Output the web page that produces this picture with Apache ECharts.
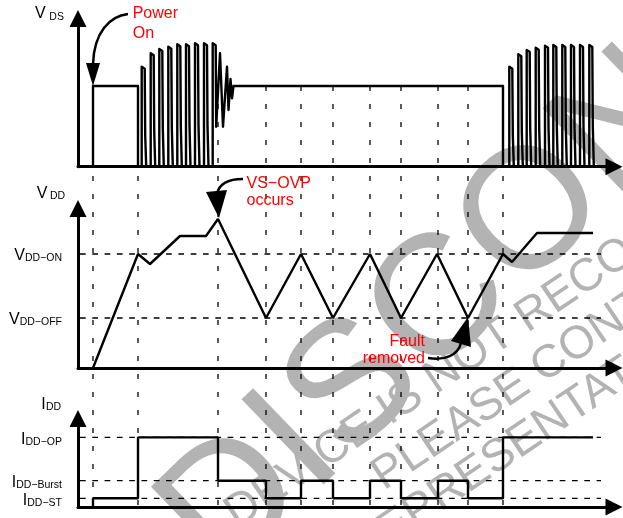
<!DOCTYPE html>
<html><head><meta charset="utf-8">
<script src="https://cdn.jsdelivr.net/npm/echarts@6/dist/echarts.min.js"></script>
<style>html,body{margin:0;padding:0;background:#fff}#c{width:623px;height:518px}</style>
</head><body><div id="c"></div>
<script>
// ---- time axis (same time base for all three panels) ----
const eventTimes = [15, 60, 140, 188, 223, 255, 292, 323, 360, 390, 425];
const tEnd = 515;
const dashStartT = 2, dashEndT = 523;

// ---- VDS ----
const vdsPlateau = 80.7;
const vdsOnT = 15, vdsBurst1T = 60, vdsBurst2T = 425;
const burst1Times = [63.7, 72.7, 81.3, 90.3, 99.3, 108, 117, 126, 134.7];
const burst1Peaks = [100, 113.4, 117.7, 120, 122.4, 122.4, 123.4, 123.4, 123.4];
const burst1Lows  = [31.7, 36.7, 38.4, 40, 41, 41.7, 41.7, 41.7, 40];
const ringTimes  = [142, 145, 149, 150.5, 152.5, 154, 155.5];
const ringValues = [113.4, 40, 100, 56.7, 87.7, 68.4, 80.7];
const burst2Times = [431.3, 440.3, 448.7, 457.7, 467, 475.3, 484.3, 493, 502, 511.3];
const burst2Peaks = [100, 112.4, 116.7, 119, 121, 121.7, 121.7, 121.7, 121.7, 121.7];
const burst2Lows  = [31.7, 35, 38.4, 38.4, 40, 40, 40, 40, 40, 40];

// ---- VDD ----
const vddTimes  = [15, 60, 72, 102, 128, 140, 188, 223, 255, 292, 323, 359, 390, 425, 434, 459, 515];
const vddValues = [0, 114, 104, 132, 132, 149, 50, 114, 50, 114, 50, 114, 50, 114, 106, 135, 135];
const vddLevelValues = [114, 50];
const vddLevelNames  = ['DD\u2212ON', 'DD\u2212OFF'];

// ---- IDD ----
const iddTimes  = [15, 15, 60, 140, 188, 223, 255, 292, 323, 360, 390, 425, 515];
const iddValues = [0, 8.7, 69.6, 26.3, 8.7, 26.3, 8.7, 26.3, 8.7, 26.3, 8.7, 69.6, 69.6];
const iddLevelValues = [69.6, 26.3, 8.7];
const iddLevelNames  = ['DD\u2212OP', 'DD\u2212Burst', 'DD\u2212ST'];

// ---- build series data ----
function spikes(times, peaks, lows, endOnLow) {
  const pts = [];
  times.forEach((t, i) => {
    pts.push([t, 0], [t, peaks[i]], [t + 1.5, peaks[i] + 0.5], [t + 3, peaks[i] - 2], [t + 3.5, lows[i]], [t + 4.5, lows[i] + 1]);
    if (!(endOnLow && i === times.length - 1)) pts.push([t + 4.5, 0]);
  });
  return pts;
}
const vdsData = [[vdsOnT, 0], [vdsOnT, vdsPlateau], [vdsBurst1T, vdsPlateau], [vdsBurst1T, 0]]
  .concat(spikes(burst1Times, burst1Peaks, burst1Lows, true))
  .concat(ringTimes.map((t, i) => [t, ringValues[i]]))
  .concat([[vdsBurst2T, vdsPlateau], [vdsBurst2T, 0]])
  .concat(spikes(burst2Times, burst2Peaks, burst2Lows, false));
const vddData = vddTimes.map((t, i) => [t, vddValues[i]]);
const iddData = iddTimes.map((t, i) => [t, iddValues[i]]);

const FF = '"Liberation Sans", Arial, sans-serif';
const grids = [
  {left: 78, width: 536, top: 18.5, height: 148.2},
  {left: 78, width: 536, top: 208.5, height: 159.5},
  {left: 78, width: 536, top: 418.5, height: 88.5},
  {left: 78, width: 536, top: 86, height: 421}
].map(g => Object.assign(g, {outerBoundsMode: 'none', containLabel: false}));

const axisLine = {show: true, onZero: false, symbol: ['none', 'triangle'], symbolSize: [17, 17],
  lineStyle: {color: '#000', width: 3}};
const xAxis = [0, 1, 2].map(i => ({type: 'value', gridIndex: i, min: 0, max: 536, axisLine,
  axisTick: {show: false}, axisLabel: {show: false}, splitLine: {show: false}}))
  .concat([{type: 'value', gridIndex: 3, min: 0, max: 536, show: false}]);

function levelLabel(values, names, letter) {
  return {
    show: true, customValues: values, margin: 16, padding: [4, 0, 0, 0],
    formatter: v => {
      const i = values.findIndex(x => Math.abs(x - v) < 0.01);
      return '{m|' + letter + '}{s|' + (i >= 0 ? names[i] : '') + '}';
    },
    rich: {
      m: {fontSize: 16, lineHeight: 16, fontFamily: FF, color: '#000', verticalAlign: 'bottom'},
      s: {fontSize: 10.5, lineHeight: 10.5, fontFamily: FF, color: '#000', verticalAlign: 'bottom'}
    }
  };
}
const yAxis = [
  {type: 'value', gridIndex: 0, min: 0, max: 148.2, axisLine, axisTick: {show: false}, axisLabel: {show: false}, splitLine: {show: false}},
  {type: 'value', gridIndex: 1, min: 0, max: 159.5, axisLine, axisTick: {show: false}, axisLabel: levelLabel(vddLevelValues, vddLevelNames, 'V'), splitLine: {show: false}},
  {type: 'value', gridIndex: 2, min: 0, max: 88.5, axisLine, axisTick: {show: false}, axisLabel: levelLabel(iddLevelValues, iddLevelNames, 'I'), splitLine: {show: false}},
  {type: 'value', gridIndex: 3, min: 0, max: 1, show: false}
];

const base = {type: 'line', symbol: 'none', showSymbol: false, silent: true, animation: false};
const series = [];
eventTimes.forEach(t => series.push(Object.assign({}, base, {xAxisIndex: 3, yAxisIndex: 3, z: 1,
  data: [[t, 1], [t, 0]], lineStyle: {color: '#000', width: 1.3, type: [5, 13]}})));
vddLevelValues.forEach(v => series.push(Object.assign({}, base, {xAxisIndex: 1, yAxisIndex: 1, z: 1,
  data: [[dashStartT, v], [dashEndT, v]], lineStyle: {color: '#000', width: 1.3, type: [5.7, 6.6]}})));
iddLevelValues.forEach(v => series.push(Object.assign({}, base, {xAxisIndex: 2, yAxisIndex: 2, z: 1,
  data: [[dashStartT, v], [dashEndT, v]], lineStyle: {color: '#000', width: 1.3, type: [5.7, 6.6]}})));
series.push(Object.assign({}, base, {xAxisIndex: 0, yAxisIndex: 0, z: 3, data: vdsData,
  lineStyle: {color: '#000', width: 2.4, join: 'round', cap: 'round'}}));
series.push(Object.assign({}, base, {xAxisIndex: 1, yAxisIndex: 1, z: 3, data: vddData,
  lineStyle: {color: '#000', width: 2.4}}));
series.push(Object.assign({}, base, {xAxisIndex: 2, yAxisIndex: 2, z: 3, data: iddData, step: 'end',
  lineStyle: {color: '#000', width: 2.4}}));

const WM = '#b3b3b3';
function wm(text, x, y, size, deg) {
  return {type: 'text', x, y, rotation: deg * Math.PI / 180, z: -5, silent: true,
    style: {text, x: 0, y: -0.31 * size, fill: WM, font: size + 'px ' + FF, align: 'left', verticalAlign: 'middle'}};
}
function txt(text, x, y, size, color, align) {
  return {type: 'text', x, y, z: 100, silent: true,
    style: {text, fill: color, font: size + 'px ' + FF, align: align || 'left', verticalAlign: 'middle'}};
}
const RED = '#ff0000';
const graphic = [
  wm('DISCONTINUED', 227, 586, 172, 44),
  wm('DEVICE IS NOT RECOMMENDED', 238, 530, 46, 34),
  wm('PLEASE CONTACT', 385, 492, 46, 34),
  wm('REPRESENTATIVE', 363, 566, 46, 34),
  // axis titles
  txt('V', 35, 13.3, 16, '#000'), txt('DS', 49.3, 17.5, 10.5, '#000'),
  txt('V', 36.7, 193.3, 16, '#000'), txt('DD', 50, 195.7, 10.5, '#000'),
  txt('I', 41.2, 404.8, 16, '#000'), txt('DD', 46, 407, 10.5, '#000'),
  // annotations
  txt('Power', 132.7, 13.3, 16, RED), txt('On', 132.7, 33.8, 16, RED),
  txt('VS\u2212OVP', 246.5, 183.3, 16, RED), txt('occurs', 246.5, 200.1, 16, RED),
  txt('Fault', 425, 341.6, 16, RED, 'right'), txt('removed', 425, 358.4, 16, RED, 'right'),
  {type: 'bezierCurve', z: 100, silent: true, shape: {x1: 128, y1: 14, cpx1: 110, cpy1: 16, cpx2: 94, cpy2: 32, x2: 93, y2: 64},
    style: {stroke: '#000', lineWidth: 2.5, fill: 'none'}},
  {type: 'polygon', z: 100, silent: true, shape: {points: [[86, 63], [100, 63], [93, 86]]}, style: {fill: '#000'}},
  {type: 'bezierCurve', z: 100, silent: true, shape: {x1: 243, y1: 179, cpx1: 228, cpy1: 179, cpx2: 219, cpy2: 184, x2: 217, y2: 194},
    style: {stroke: '#000', lineWidth: 2.5, fill: 'none'}},
  {type: 'polygon', z: 100, silent: true, shape: {points: [[206, 192], [227, 190], [219, 218]]}, style: {fill: '#000'}},
  {type: 'bezierCurve', z: 100, silent: true, shape: {x1: 428, y1: 358, cpx1: 445, cpy1: 361, cpx2: 458, cpy2: 355, x2: 461, y2: 343},
    style: {stroke: '#000', lineWidth: 2.5, fill: 'none'}},
  {type: 'polygon', z: 100, silent: true, shape: {points: [[451, 341], [471, 347], [468, 317]]}, style: {fill: '#000'}}
];

const chart = echarts.init(document.getElementById('c'), null, {renderer: 'canvas'});
chart.setOption({
  animation: false,
  backgroundColor: '#fff',
  textStyle: {fontFamily: FF},
  grid: grids, xAxis, yAxis, series, graphic
});
</script></body></html>
